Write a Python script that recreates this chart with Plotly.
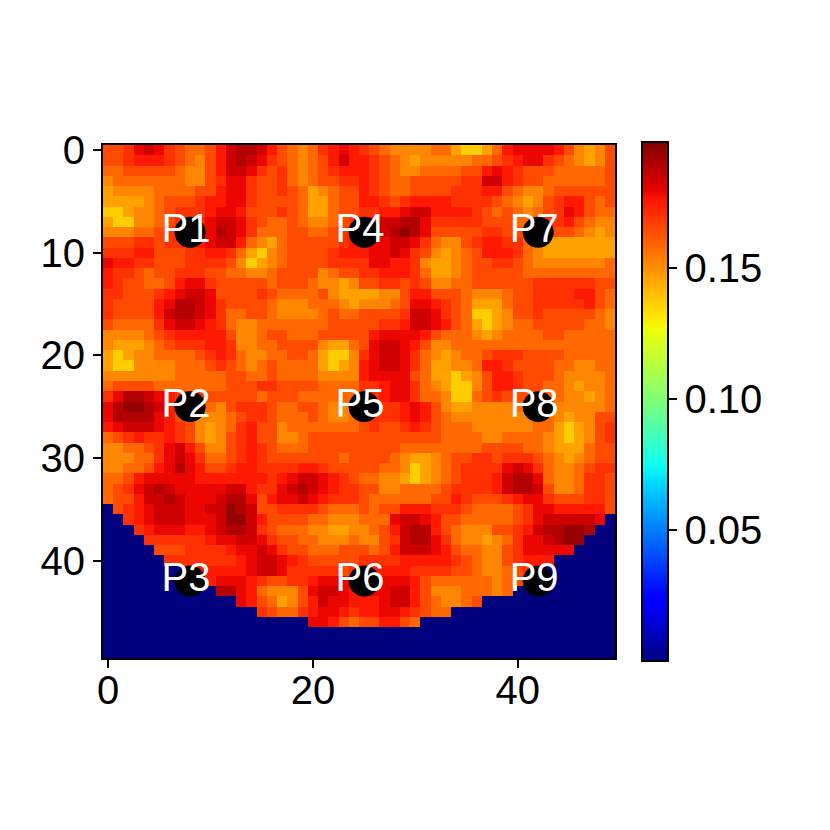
import plotly.graph_objects as go

# Each character is a colour level; "0" is the masked area.
levels = {"0": 0.0004, "1": 0.137, "2": 0.146, "3": 0.152, "4": 0.158, "5": 0.1645,
          "6": 0.170, "7": 0.175, "8": 0.179, "9": 0.184, "a": 0.189, "b": 0.194}

rows = [
 "5568986544579aa9754346787" "6543333442112478888753235",
 "5567776543579a98654345797" "7654323333344567886543235",
 "4455555433579986564345677" "7654334444557876555444445",
 "3444444433568865564345566" "7654455555669976554444445",
 "2333344445578865565423455" "7654455556667754334555555",
 "2222345556778865555422455" "7765677776666543235677545",
 "1123345666788755565422455" "6677899777765454345687544",
 "2113345667899865445433456" "8899aa8666665554456675433",
 "3334456667" "8a98644455" "44566" "889aba8555" "5566554455" "54323",
 "5556656667" "8997432455" "55567" "7889986433" "5677664322" "22222",
 "6667755566" "7764213455" "55677" "7889865323" "4577764322" "22222",
 "8776655566" "6653123455" "55666" "6887763223" "4556654333" "33334",
 "7665455666" "5544334555" "53455" "6677764223" "4555554444" "44444",
 "7655445788" "6555554555" "43323" "5566565334" "4555555666" "66655",
 "6655567899" "8555565444" "45322" "2233577555" "4333455666" "67754",
 "6555578aa9" "8655554333" "44432" "3334588765" "4222455666" "66754",
 "6555579aa9" "8644554333" "34544" "5555699865" "4112355655" "55543",
 "5444468998" "7643344444" "44555" "5566799875" "4212344555" "55443",
 "3333456777" "7753345544" "45555" "5788887544" "4323444455" "44444",
 "3222345666" "7763344555" "53224" "5899875334" "4444444444" "44444",
 "2123344445" "6764334455" "42113" "6899864323" "4456665555" "44444",
 "2113333444" "5654345444" "42123" "7899864223" "3477655554" "43344",
 "3333333444" "4455445444" "43333" "7888854221" "2357765554" "33334",
 "4555544444" "4455566555" "54444" "6678864321" "1357765544" "32334",
 "68aa987666" "5555545554" "44444" "6678864431" "1456555444" "33234",
 "8abba97654" "4356665445" "54333" "6666787532" "2333344443" "33334",
 "8aaaa87543" "3345665444" "54334" "6666787543" "3333333343" "23355",
 "7899987653" "2346755344" "44444" "5655676544" "4333333442" "12356",
 "4567667653" "2356755334" "55555" "5555555544" "4433444432" "12356",
 "3344568975" "3356765444" "55555" "5555444444" "4455554432" "22455",
 "3334468986" "4456765555" "55545" "5554322345" "5665666543" "23455",
 "3344578a87" "5567766667" "76555" "5544312345" "6666898643" "34566",
 "4457888887" "7777776789" "98765" "4433212345" "66679aa843" "34665",
 "45689a9888" "889976689a" "98766" "5533444456" "66679aa953" "34665",
 "455799a988" "89aa857889" "87666" "5444444557" "6555678865" "55665",
 "0567899988" "99ba955666" "65444" "5455777666" "5444456887" "77775",
 "0067899988" "89bb975555" "44333" "4448998755" "4444456899" "99980",
 "0006788877" "89aa965444" "33223" "34579aa754" "33355679aa" "bba00",
 "0000666666" "7889986554" "43334" "33569aa864" "332346889a" "bb000",
 "0000055566" "6678898655" "44455" "5457999875" "4433568888" "80000",
 "0000006666" "6667899876" "55555" "6666777776" "5433567770" "00000",
 "0000000077" "7777899866" "66656" "6777766665" "5433456600" "00000",
 "0000000000" "7888765566" "78887" "7788875444" "4443455000" "00000",
 "0000000000" "0aa8743335" "89987" "7889975333" "4443400000" "00000",
 "0000000000" "0008754235" "79887" "7789975433" "4500000000" "00000",
 "0000000000" "0000065446" "78876" "7788765440" "0000000000" "00000",
 "0000000000" "0000000000" "88754" "5577540000" "0000000000" "00000",
 "0" * 50,
 "0" * 50,
 "0" * 50,
]
assert len(rows) == 50 and all(len(r) == 50 for r in rows), [len(r) for r in rows]
z = [[levels[c] for c in r] for r in rows]

point_x = [8, 8, 8, 25, 25, 25, 42, 42, 42]
point_y = [8, 25, 42, 8, 25, 42, 8, 25, 42]
point_names = ["P1", "P2", "P3", "P4", "P5", "P6", "P7", "P8", "P9"]
cbar_ticks = [0.05, 0.10, 0.15]
x_ticks = [0, 20, 40]
y_ticks = [0, 10, 20, 30, 40]

jet = [[0, "#00007f"], [0.11, "#0000ff"], [0.125, "#0000ff"], [0.34, "#00d5ff"], [0.35, "#00e0f8"], [0.375, "#0cfff4"],
       [0.5, "#7dff7a"], [0.64, "#f0ff06"], [0.66, "#ffea00"], [0.89, "#ff1300"], [0.91, "#e40000"], [1, "#800000"]]

FONT = "Liberation Sans"
FS = 40
W = H = 830
OFF = 7  # the page's own body margin
L, R, T, B = 102 - OFF, 614 - OFF, 144 - OFF, 657 - OFF

fig = go.Figure()
fig.add_trace(go.Heatmap(
    z=z, colorscale=jet, zmin=0.0004, zmax=0.198,
    colorbar=dict(
        x=(642 - 8) / W, xanchor="left", xpad=0, ypad=0,
        y=1 - (660 - 7.5) / H, yanchor="bottom", lenmode="fraction", len=(660 - 141) / H,
        thicknessmode="pixels", thickness=26,
        outlinecolor="black", outlinewidth=2,
        tickmode="array", tickvals=cbar_ticks, tickformat=".2f",
        ticks="outside", ticklen=8, tickwidth=2, tickcolor="black",
        tickfont=dict(family=FONT, size=FS, color="black"),
    ),
    hoverinfo="skip",
))
fig.add_trace(go.Scatter(
    x=point_x, y=point_y, mode="markers",
    marker=dict(color="black", size=31, line=dict(width=0)), hoverinfo="skip",
))
fig.add_trace(go.Scatter(
    x=[v - 0.4 for v in point_x], y=[v + 0.0 for v in point_y], mode="text",
    text=point_names, textposition="middle center",
    textfont=dict(family=FONT, size=FS, color="white"), hoverinfo="skip",
))
axis = dict(showgrid=False, zeroline=False, showline=True, mirror=True, linecolor="black", linewidth=2,
            ticks="outside", ticklen=8, tickwidth=2, tickcolor="black",
            tickfont=dict(family=FONT, size=FS, color="black"))
fig.update_layout(
    width=W, height=H, showlegend=False, paper_bgcolor="white", plot_bgcolor="white",
    margin=dict(l=0, r=0, t=0, b=0, autoexpand=False),
    xaxis=dict(axis, domain=[L / W, R / W], range=[-0.5, 49.5], tickmode="array", tickvals=x_ticks,
               ticklabelstandoff=-12),
    yaxis=dict(axis, domain=[1 - B / H, 1 - T / H], range=[49.5, -0.5], tickmode="array", tickvals=y_ticks),
)
fig.write_html("out.html")
